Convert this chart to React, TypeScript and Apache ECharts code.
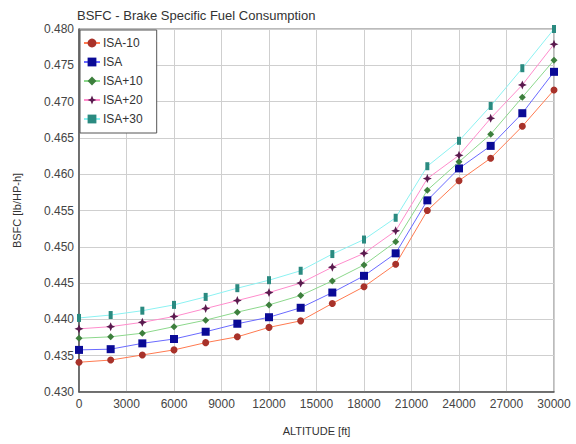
import React, { useEffect, useRef } from "react";
import * as echarts from "echarts";

const altitudes = [0, 2000, 4000, 6000, 8000, 10000, 12000, 14000, 16000, 18000, 20000, 22000, 24000, 26000, 28000, 30000];
const isaM10 = [0.4341, 0.4344, 0.4351, 0.4358, 0.4368, 0.4376, 0.4389, 0.4398, 0.4422, 0.4445, 0.4476, 0.4550, 0.4591, 0.4622, 0.4666, 0.4716];
const isa = [0.4358, 0.4359, 0.4367, 0.4373, 0.4383, 0.4394, 0.4403, 0.4416, 0.4437, 0.4460, 0.4491, 0.4564, 0.4608, 0.4639, 0.4684, 0.4741];
const isaP10 = [0.4374, 0.4376, 0.4381, 0.4390, 0.4399, 0.4410, 0.4420, 0.4433, 0.4453, 0.4475, 0.4507, 0.4578, 0.4617, 0.4655, 0.4706, 0.4757];
const isaP20 = [0.4387, 0.4390, 0.4396, 0.4404, 0.4415, 0.4426, 0.4437, 0.4450, 0.4472, 0.4491, 0.4522, 0.4594, 0.4626, 0.4677, 0.4723, 0.4779];
const isaP30 = [0.4402, 0.4406, 0.4412, 0.4420, 0.4431, 0.4443, 0.4454, 0.4467, 0.4490, 0.4510, 0.4540, 0.4611, 0.4646, 0.4694, 0.4746, 0.4800];
const seriesNames = ["ISA-10", "ISA", "ISA+10", "ISA+20", "ISA+30"];

const FONT = "Liberation Sans, Arial, sans-serif";
const STAR = "path://M0,-10 L3,-3 L10,0 L3,3 L0,10 L-3,3 L-10,0 L-3,-3 Z";

export default function App() {
  const ref = useRef<HTMLDivElement>(null);
  useEffect(() => {
    if (!ref.current) return;
    const chart = echarts.init(ref.current, null, { renderer: "svg" });
    const values = [isaM10, isa, isaP10, isaP20, isaP30];
    const lineColors = ["#ff7a50", "#6a6aff", "#8cd88c", "#ff8ccc", "#8cf2f2"];
    const markColors = ["#a8322a", "#0a0a96", "#3d7f3d", "#5a1a4e", "#2a8a80"];
    const symbols = ["circle", "rect", "diamond", STAR, "rect"];
    const sizes: any[] = [7, 8, 7, 9, [4, 8]];
    const series = values.map((v, i) => ({
      name: seriesNames[i],
      type: "line",
      data: altitudes.map((a, j) => [a, v[j]]),
      symbol: symbols[i],
      symbolSize: sizes[i],
      lineStyle: { color: lineColors[i], width: 1 },
      itemStyle: { color: markColors[i], borderColor: markColors[i], borderWidth: 0 },
      z: 2 + i,
    }));
    chart.setOption({
      animation: false,
      textStyle: { fontFamily: FONT },
      title: {
        text: "BSFC - Brake Specific Fuel Consumption",
        left: 77,
        top: 9,
        padding: 0,
        textStyle: { fontSize: 13, fontWeight: "normal", color: "#333", fontFamily: FONT },
      },
      legend: {
        orient: "vertical",
        left: 80,
        top: 30,
        padding: [7, 14, 8, 3],
        itemGap: 7,
        itemWidth: 16,
        itemHeight: 11,
        backgroundColor: "#fff",
        borderColor: "#555",
        borderWidth: 1,
        borderRadius: 0,
        textStyle: { fontSize: 12, color: "#333", fontFamily: FONT, padding: [0, 0, 0, -2] },
        data: seriesNames,
      },
      grid: { left: 79, right: 22, top: 29, bottom: 52, containLabel: false, show: true, borderColor: "#777", borderWidth: 1 },
      xAxis: {
        type: "value",
        min: 0,
        max: 30000,
        interval: 3000,
        name: "ALTITUDE [ft]",
        nameLocation: "middle",
        nameGap: 33,
        nameTextStyle: { fontSize: 11, color: "#333", fontFamily: FONT },
        axisLine: { show: true, lineStyle: { color: "#555", width: 1.5 } },
        axisTick: { show: false },
        axisLabel: { fontSize: 12, color: "#444", margin: 6, fontFamily: FONT, formatter: (v: number) => String(v) },
        splitLine: { show: true, lineStyle: { color: "#cfcfcf", width: 1 } },
      },
      yAxis: {
        type: "value",
        min: 0.43,
        max: 0.48,
        interval: 0.005,
        name: "BSFC [lb/HP-h]",
        nameLocation: "middle",
        nameGap: 57,
        nameTextStyle: { fontSize: 11, color: "#333", fontFamily: FONT },
        axisLine: { show: true, lineStyle: { color: "#555", width: 1.5 } },
        axisTick: { show: false },
        axisLabel: { fontSize: 12, color: "#444", margin: 5, fontFamily: FONT, formatter: (v: number) => v.toFixed(3) },
        splitLine: { show: true, lineStyle: { color: "#cfcfcf", width: 1 } },
      },
      series,
    });
    return () => chart.dispose();
  }, []);
  return <div ref={ref} style={{ width: 576, height: 444, position: "fixed", left: 0, top: 0, background: "#fff" }} />;
}
